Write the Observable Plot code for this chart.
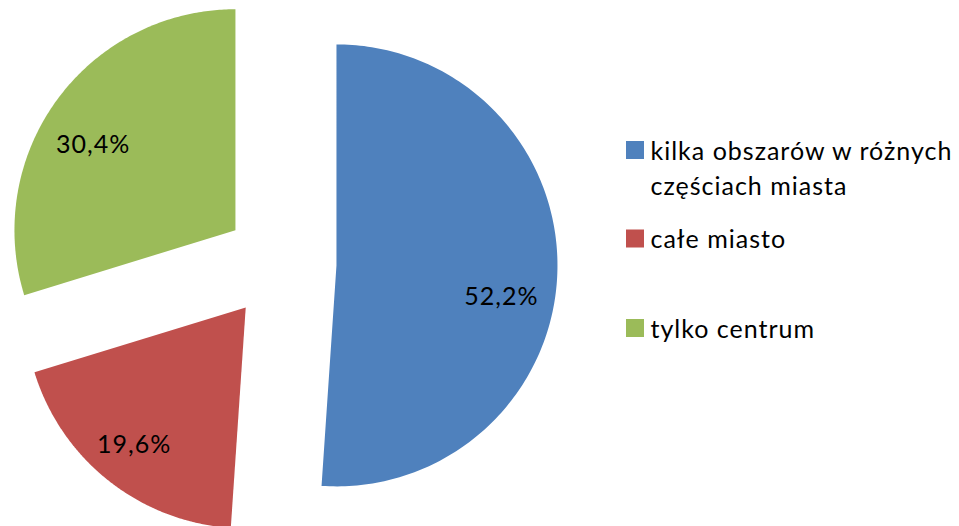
<!DOCTYPE html>
<html>
<head>
<meta charset="utf-8">
<script src="https://cdn.jsdelivr.net/npm/d3@7"></script>
<script src="https://cdn.jsdelivr.net/npm/@observablehq/plot@0.6"></script>
<style>
  html, body { margin: 0; padding: 0; background: #ffffff; }
  #chart svg { display: block; }
</style>
</head>
<body>
<div id="chart"></div>
<script>
// ---- data ----
const categories = ["kilka obszarów w różnych\nczęściach miasta", "całe miasto", "tylko centrum"];
const values = [52.2, 19.6, 30.4];
const valueLabels = ["52,2%", "19,6%", "30,4%"];
const colors = ["#4F81BD", "#C0504D", "#9BBB59"];

// ---- layout (pixels) ----
const W = 959, H = 526;
const cx = 280, cy = 263, R = 221, explode = 56;
const labelAngleShift = [9, 0.7, -5.6];   // degrees relative to slice bisector
const labelRadius = [0.76, 0.80, 0.75];   // fraction of radius
const legendX = 626, legendSize = 18, legendTextX = 650;
const legendCenters = [150, 238.5, 328];
const fontSize = 25, lineHeight = 35 / 25;

// ---- geometry from data ----
const arcs = d3.pie().sort(null).value(d => d)(values);
const polys = [];
const labelData = [];
arcs.forEach((a, i) => {
  const mid = (a.startAngle + a.endAngle) / 2;
  const ox = cx + explode * Math.sin(mid);
  const oy = cy - explode * Math.cos(mid);
  polys.push({x: ox, y: oy, cat: categories[i]});
  const n = 180;
  for (let k = 0; k <= n; ++k) {
    const t = a.startAngle + (a.endAngle - a.startAngle) * k / n;
    polys.push({x: ox + R * Math.sin(t), y: oy - R * Math.cos(t), cat: categories[i]});
  }
  const la = mid + labelAngleShift[i] * Math.PI / 180;
  labelData.push({
    x: ox + labelRadius[i] * R * Math.sin(la),
    y: oy - labelRadius[i] * R * Math.cos(la),
    text: valueLabels[i]
  });
});

const legendData = categories.map((c, i) => {
  const lines = c.split("\n").length;
  return {
    cat: c,
    y1: legendCenters[i] - legendSize / 2,
    y2: legendCenters[i] + legendSize / 2,
    ty: legendCenters[i] + 9 + (lines - 1) * 35
  };
});

const chart = Plot.plot({
  width: W,
  height: H,
  margin: 0,
  x: {domain: [0, W], axis: null},
  y: {domain: [0, H], reverse: true, axis: null},
  color: {domain: categories, range: colors},
  style: {fontFamily: "Lato, 'Open Sans', sans-serif", background: "#ffffff", overflow: "hidden", letterSpacing: "1px"},
  marks: [
    Plot.line(polys, {x: "x", y: "y", z: "cat", fill: "cat", stroke: "none", curve: "linear-closed"}),
    Plot.text(labelData, {x: "x", y: "y", text: "text", fontSize: fontSize, fill: "#000000", lineAnchor: "middle"}),
    Plot.rect(legendData, {x1: legendX, x2: legendX + legendSize, y1: "y1", y2: "y2", fill: "cat"}),
    Plot.text(legendData, {x: legendTextX, y: "ty", text: "cat", textAnchor: "start", lineAnchor: "bottom",
      lineHeight: lineHeight, fontSize: fontSize, fill: "#000000"})
  ]
});
document.getElementById("chart").appendChild(chart);
</script>
</body>
</html>
